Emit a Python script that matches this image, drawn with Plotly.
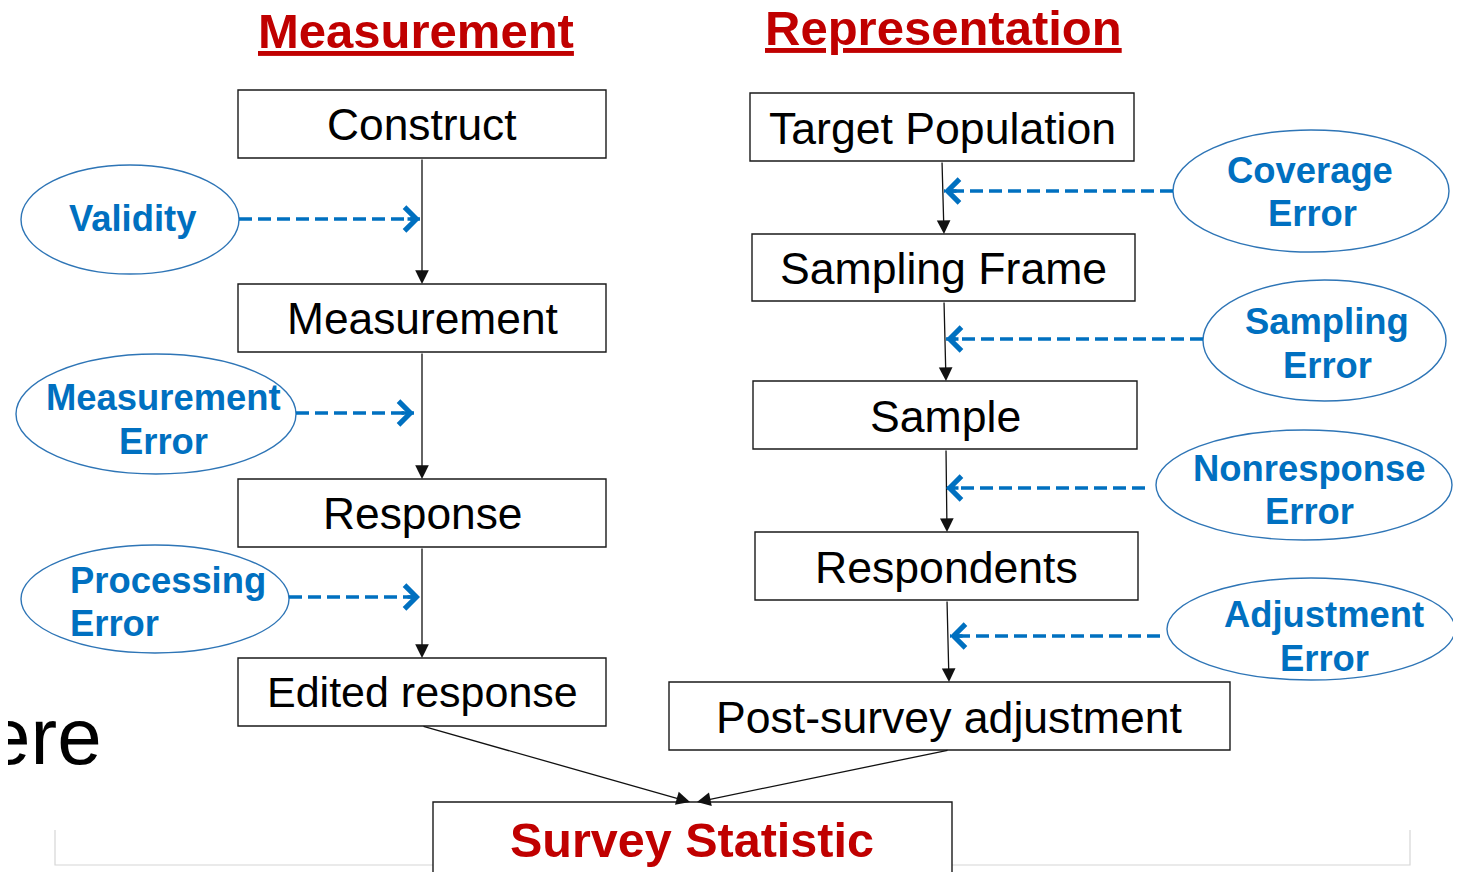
import plotly.graph_objects as go

# ── Diagram content ────────────────────────────────────────────────────────
HEADERS = ["Measurement", "Representation"]

MEAS_STEPS = ["Construct", "Measurement", "Response", "Edited response"]
REP_STEPS = ["Target Population", "Sampling Frame", "Sample",
             "Respondents", "Post-survey adjustment"]
FINAL_STEP = "Survey Statistic"

MEAS_ERRORS = [["Validity"], ["Measurement", "Error"], ["Processing", "Error"]]
REP_ERRORS = [["Coverage", "Error"], ["Sampling", "Error"],
              ["Nonresponse", "Error"], ["Adjustment", "Error"]]

# ── Layout geometry (pixels, y grows downward) ─────────────────────────────
W, H = 1461, 872
PAD = 8  # the html page body keeps an 8px margin

HEADER_POS = [(416, 31), (943, 28)]

MEAS_BOXES = [(238, 90, 606, 158), (238, 284, 606, 352),
              (238, 479, 606, 547), (238, 658, 606, 726)]
MEAS_SIZES = [44.3, 44.3, 44.3, 43]
REP_BOXES = [(750, 93, 1134, 161), (752, 234, 1135, 301), (753, 381, 1137, 449),
             (755, 532, 1138, 600), (669, 682, 1230, 750)]
REP_SIZES = [44.6, 44.6, 44.6, 44.6, 44.6]
FINAL_BOX = (433, 802, 952, 900)

MEAS_ELLIPSES = [(21, 165, 239, 274), (16, 354, 296, 474), (21, 545, 289, 653)]
MEAS_TEXT = [[(133, 218)], [(163, 397), (163, 441)], [(68, 580), (68, 623)]]
MEAS_ALIGN = ["center", "center", "left"]
MEAS_DASH = [(239, 420, 219), (296, 414, 413), (289, 420, 597)]

REP_ELLIPSES = [(1173, 130, 1449, 252), (1203, 280, 1446, 401),
                (1156, 430, 1452, 540), (1167, 578, 1455, 680)]
REP_TEXT = [[(1310, 170), (1312, 213)], [(1327, 321), (1327, 365)],
            [(1309, 468), (1309, 511)], [(1324, 614), (1324, 658)]]
REP_DASH = [(1173, 944, 191), (1203, 946, 339), (1145, 946, 488), (1160, 950, 636)]

RED = "#C00000"
BLUE = "#0070C0"
ELL_LINE = "#2E75B6"
FONT = "Liberation Sans, Arial, sans-serif"

fig = go.Figure()
shapes = []
annotations = []


def box(x0, y0, x1, y1, fill="white"):
    shapes.append(dict(type="rect", x0=x0, y0=y0, x1=x1, y1=y1,
                       line=dict(color="#1a1a1a", width=1.4), fillcolor=fill))


def text(x, y, s, size, color="black", bold=False, xanchor="center"):
    if bold:
        s = f"<b>{s}</b>"
    annotations.append(dict(x=x, y=y, text=s, showarrow=False, xanchor=xanchor,
                            yanchor="middle",
                            font=dict(family=FONT, size=size, color=color)))


def arrow(x0, y0, x1, y1):
    annotations.append(dict(x=x1, y=y1, ax=x0, ay=y0, xref="x", yref="y",
                            axref="x", ayref="y", text="", showarrow=True,
                            arrowhead=2, arrowsize=2.1, arrowwidth=1.3,
                            arrowcolor="#111", standoff=0))


def dashed(x0, x1, y):
    shapes.append(dict(type="line", x0=x0, y0=y, x1=x1, y1=y,
                       line=dict(color=BLUE, width=3.5, dash="13px,6px")))
    step = 14 if x1 > x0 else -14
    annotations.append(dict(x=x1, y=y, ax=x1 - step, ay=y, xref="x", yref="y",
                            axref="x", ayref="y", text="", showarrow=True,
                            arrowhead=4, arrowsize=1.3, arrowwidth=3.5,
                            arrowcolor=BLUE, standoff=0))


# light frame at the bottom (slide placeholder)
shapes.append(dict(type="path", path="M 55 830 L 55 865 L 1410 865 L 1410 830",
                   line=dict(color="#d6d6d6", width=1.2)))

# headers
for (hx, hy), h in zip(HEADER_POS, HEADERS):
    text(hx, hy, f"<u>{h}</u>", 49, RED, bold=True)

# measurement column
for (x0, y0, x1, y1), s, fs in zip(MEAS_BOXES, MEAS_STEPS, MEAS_SIZES):
    box(x0, y0, x1, y1)
    text((x0 + x1) / 2, (y0 + y1) / 2, s, fs)
for a, b in zip(MEAS_BOXES[:-1], MEAS_BOXES[1:]):
    arrow(422, a[3], 422, b[1])

# representation column
for (x0, y0, x1, y1), s, fs in zip(REP_BOXES, REP_STEPS, REP_SIZES):
    box(x0, y0, x1, y1)
    text((x0 + x1) / 2, (y0 + y1) / 2 + 1, s, fs)
rep_x = [942, 944, 946, 947, 949]
for i in range(len(REP_BOXES) - 1):
    arrow(rep_x[i], REP_BOXES[i][3], rep_x[i + 1], REP_BOXES[i + 1][1])

# final box
box(*FINAL_BOX)
text(692, 840, FINAL_STEP, 48.5, RED, bold=True)
arrow(422, MEAS_BOXES[-1][3], 690, FINAL_BOX[1])
arrow(949, REP_BOXES[-1][3], 697, FINAL_BOX[1])

# error ellipses
for (x0, y0, x1, y1), lines, pos, al, (dx0, dx1, dy) in zip(
        MEAS_ELLIPSES, MEAS_ERRORS, MEAS_TEXT, MEAS_ALIGN, MEAS_DASH):
    shapes.append(dict(type="circle", x0=x0, y0=y0, x1=x1, y1=y1,
                       line=dict(color=ELL_LINE, width=1.4)))
    for s, (tx, ty) in zip(lines, pos):
        text(tx, ty, s, 36.4, BLUE, bold=True, xanchor=al)
    dashed(dx0, dx1, dy)

for (x0, y0, x1, y1), lines, pos, (dx0, dx1, dy) in zip(
        REP_ELLIPSES, REP_ERRORS, REP_TEXT, REP_DASH):
    shapes.append(dict(type="circle", x0=x0, y0=y0, x1=x1, y1=y1,
                       line=dict(color=ELL_LINE, width=1.4)))
    for s, (tx, ty) in zip(lines, pos):
        text(tx, ty, s, 36.4, BLUE, bold=True)
    dashed(dx0, dx1, dy)

# cut-off slide text on the left
text(104, 736, "ere", 80, "black", xanchor="right")

fig.update_layout(
    width=W - PAD, height=H - PAD,
    margin=dict(l=0, r=0, t=0, b=0),
    paper_bgcolor="white", plot_bgcolor="white",
    xaxis=dict(range=[PAD, W], visible=False, fixedrange=True),
    yaxis=dict(range=[H, PAD], visible=False, fixedrange=True),
    shapes=shapes, annotations=annotations,
    showlegend=False,
)

fig.write_html("out.html", config={"displayModeBar": False})
